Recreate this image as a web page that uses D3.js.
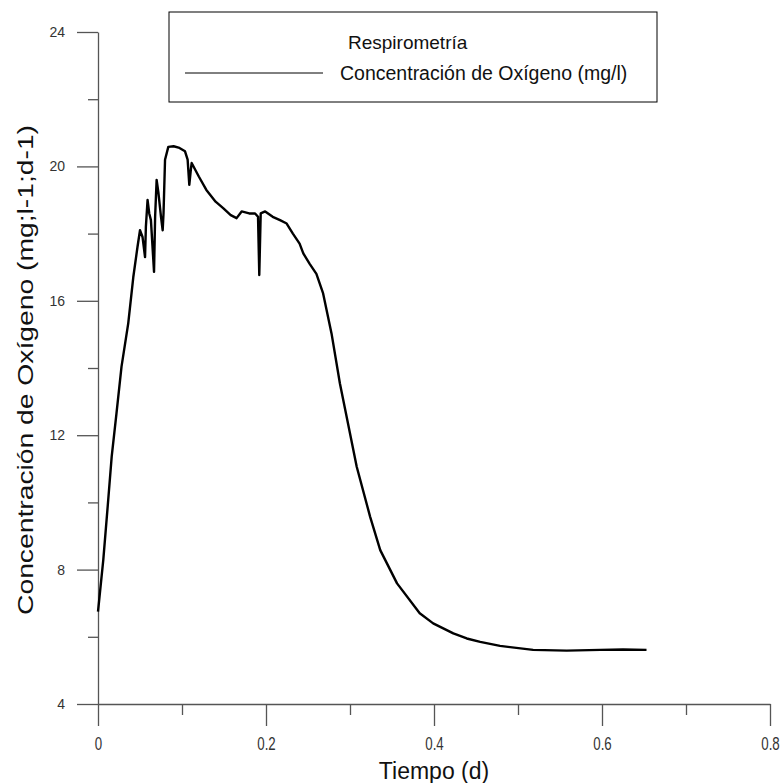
<!DOCTYPE html>
<html>
<head>
<meta charset="utf-8">
<script src="https://cdn.jsdelivr.net/npm/d3@7"></script>
<style>
  body { margin: 0; background: #fff; }
  svg { font-family: "Liberation Sans", Arial, sans-serif; }
</style>
</head>
<body>
<div id="chart"></div>
<script>
// values
const time = [0.0, 0.0063, 0.0115, 0.0163, 0.022, 0.028, 0.036, 0.042, 0.047, 0.050,
    0.053, 0.056, 0.057, 0.059, 0.061, 0.063, 0.0667, 0.068, 0.0698, 0.072,
    0.075, 0.077, 0.078, 0.0798, 0.0837, 0.090, 0.097, 0.1036, 0.1067, 0.1087,
    0.1105, 0.1115, 0.120, 0.129, 0.140, 0.149, 0.158, 0.165, 0.171, 0.180,
    0.187, 0.1905, 0.192, 0.1937, 0.199, 0.208, 0.2167, 0.2246, 0.232, 0.240,
    0.2444, 0.252, 0.260, 0.268, 0.278, 0.288, 0.296, 0.308, 0.324, 0.336,
    0.356, 0.383, 0.399, 0.423, 0.439, 0.455, 0.4786, 0.518, 0.558, 0.598,
    0.625, 0.653];
const oxygen = [6.75, 8.29, 9.87, 11.36, 12.65, 14.04, 15.33, 16.7, 17.6, 18.1,
    17.9, 17.3, 18.2, 19.0, 18.6, 18.4, 16.86, 18.5, 19.6, 19.2,
    18.5, 18.1, 18.6, 20.2, 20.58, 20.6, 20.55, 20.45, 20.2, 19.45,
    19.9, 20.1, 19.7, 19.3, 18.95, 18.76, 18.55, 18.46, 18.66, 18.6,
    18.6, 18.5, 16.77, 18.6, 18.66, 18.5, 18.4, 18.3, 18.0, 17.7,
    17.41, 17.1, 16.8, 16.22, 15.03, 13.54, 12.55, 11.06, 9.57, 8.58,
    7.59, 6.70, 6.40, 6.10, 5.95, 5.85, 5.73, 5.61, 5.59, 5.61,
    5.62, 5.61];

const xTicks = [0, 0.2, 0.4, 0.6, 0.8];
const xMinor = [0.1, 0.3, 0.5, 0.7];
const yTicks = [4, 8, 12, 16, 20, 24];
const yMinor = [6, 10, 14, 18, 22];

const seriesName = "Concentración de Oxígeno (mg/l)";
const legendTitle = "Respirometría";

const W = 782, H = 783;
const margin = { top: 32, right: 12, bottom: 79, left: 98 };

const svg = d3.select('#chart')
    .append('svg')
    .attr('width', W)
    .attr('height', H);

const x = d3.scaleLinear()
    .domain([0, 0.8])
    .range([margin.left, W - margin.right]);

const y = d3.scaleLinear()
    .domain([4, 24])
    .range([H - margin.bottom, margin.top]);

const axisColor = "#555";

// y axis
const yAxis = svg.append('g')
    .attr('transform', `translate(${margin.left},0)`)
    .call(d3.axisLeft(y).tickValues(yTicks).tickSize(21).tickSizeOuter(0).tickPadding(12));
svg.append('g')
    .attr('transform', `translate(${margin.left},0)`)
    .call(d3.axisLeft(y).tickValues(yMinor).tickSize(10).tickFormat(''))
    .call(g => g.select('.domain').remove());

// x axis
const xAxis = svg.append('g')
    .attr('transform', `translate(0,${H - margin.bottom})`)
    .call(d3.axisBottom(x).tickValues(xTicks).tickSize(22).tickSizeOuter(0).tickPadding(0)
        .tickFormat(d => d === 0 ? '0' : d3.format('.1f')(d)));
svg.append('g')
    .attr('transform', `translate(0,${H - margin.bottom})`)
    .call(d3.axisBottom(x).tickValues(xMinor).tickSize(11).tickFormat(''))
    .call(g => g.select('.domain').remove());

svg.selectAll('.domain, .tick line')
    .attr('stroke', axisColor)
    .attr('stroke-width', 1.3);

yAxis.selectAll('text')
    .style('font-size', '14px')
    .attr('fill', '#333');

// tall, narrow labels like the original
xAxis.selectAll('.tick text')
    .attr('y', null)
    .attr('dy', null)
    .attr('transform', 'translate(0,46) scale(0.95,1.35)')
    .style('font-size', '14px')
    .attr('fill', '#333');

// the curve
const line = d3.line()
    .x((d, i) => x(time[i]))
    .y(d => y(d));

svg.append('path')
    .datum(oxygen)
    .attr('fill', 'none')
    .attr('stroke', '#000')
    .attr('stroke-width', 2.4)
    .attr('stroke-linejoin', 'round')
    .attr('d', line);

// axis titles
svg.append('text')
    .attr('transform', `translate(33,${(y(4) + y(24)) / 2 + 2}) rotate(-90)`)
    .attr('text-anchor', 'middle')
    .attr('textLength', 490)
    .attr('lengthAdjust', 'spacingAndGlyphs')
    .style('font-size', '22px')
    .attr('fill', '#111')
    .text('Concentración de Oxígeno (mg;l-1;d-1)');

svg.append('text')
    .attr('x', (x(0) + x(0.8)) / 2)
    .attr('y', 779)
    .attr('text-anchor', 'middle')
    .style('font-size', '23px')
    .attr('fill', '#111')
    .text('Tiempo (d)');

// legend
const legend = svg.append('g');
legend.append('rect')
    .attr('x', 169).attr('y', 12)
    .attr('width', 488).attr('height', 90)
    .attr('fill', '#fff')
    .attr('stroke', '#000')
    .attr('stroke-width', 1);
legend.append('text')
    .attr('x', 348).attr('y', 49)
    .style('font-size', '19px')
    .attr('fill', '#111')
    .text(legendTitle);
legend.append('line')
    .attr('x1', 185).attr('x2', 323)
    .attr('y1', 73).attr('y2', 73)
    .attr('stroke', '#000')
    .attr('stroke-width', 1);
legend.append('text')
    .attr('x', 340).attr('y', 80)
    .style('font-size', '19.5px')
    .attr('fill', '#111')
    .text(seriesName);
</script>
</body>
</html>
